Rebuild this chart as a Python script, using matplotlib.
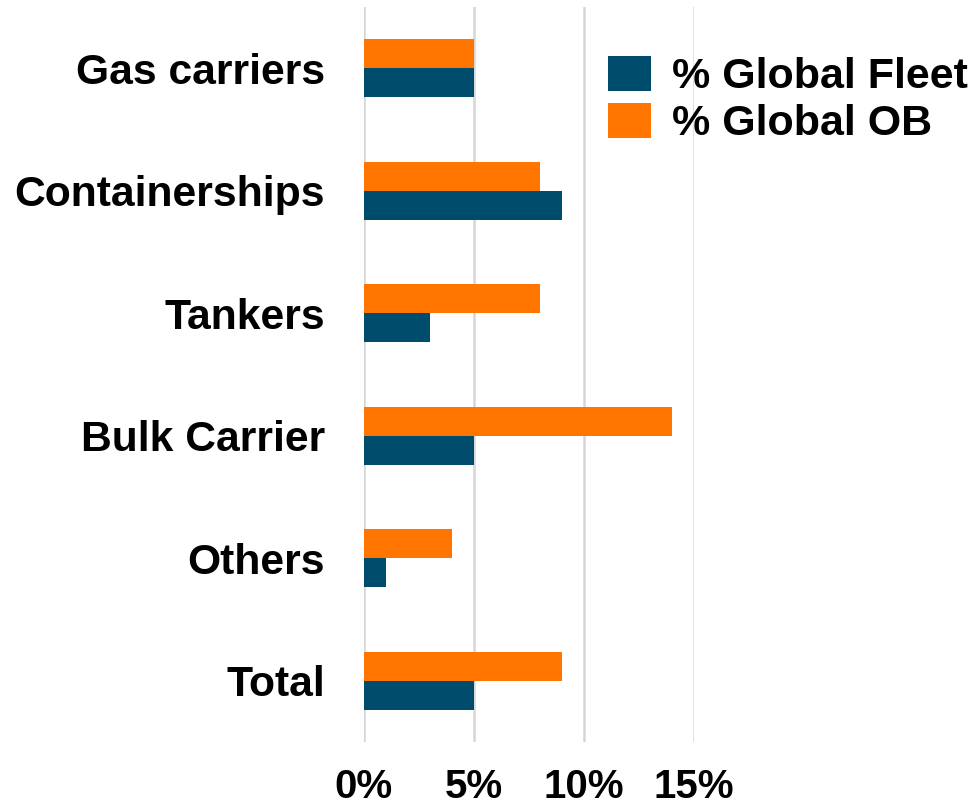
import numpy as np
import matplotlib
matplotlib.use("Agg")
import matplotlib.pyplot as plt

plt.rcParams['font.family'] = ['Liberation Sans', 'DejaVu Sans']
plt.rcParams['font.weight'] = 'bold'

categories = ['Gas carriers', 'Containerships', 'Tankers', 'Bulk Carrier', 'Others', 'Total']
global_fleet = [5, 9, 3, 5, 1, 5]
global_ob = [5, 8, 8, 14, 4, 9]
x_ticks = [0, 5, 10, 15]
x_labels = ['0%', '5%', '10%', '15%']

blue = '#004c6d'
orange = '#ff7500'

fig = plt.figure(figsize=(9.73, 8.11), dpi=100)
ax = fig.add_axes([364/973, 1 - 742/811, (694 - 364)/973, (742 - 7)/811])

y = np.arange(len(categories))
h = 0.236
ax.barh(y + h/2, global_fleet, height=h, color=blue, label='% Global Fleet', zorder=3)
ax.barh(y - h/2, global_ob, height=h, color=orange, label='% Global OB', zorder=3)

ax.set_ylim(len(categories) - 0.5, -0.5)
ax.set_xlim(0, 15)
ax.set_yticks(y)
ax.set_yticklabels(categories, fontsize=30.7, fontweight='bold')
ax.set_xticks(x_ticks)
ax.set_xticklabels(x_labels, fontsize=29, fontweight='bold')
ax.tick_params(axis='y', length=0, pad=28)
ax.tick_params(axis='x', length=0, pad=19)
ax.grid(axis='x', color='#d6d6d6', linewidth=1.8, zorder=0)
for s in ax.spines.values():
    s.set_visible(False)

fig.legend(loc='upper left', bbox_to_anchor=(608/973, 1 - 56/811), frameon=False,
           prop={'weight': 'bold', 'size': 31}, handlelength=1.0, handleheight=0.88,
           handletextpad=0.48, labelspacing=0.12, borderpad=0, borderaxespad=0)

fig.savefig('out.png', dpi=100)
